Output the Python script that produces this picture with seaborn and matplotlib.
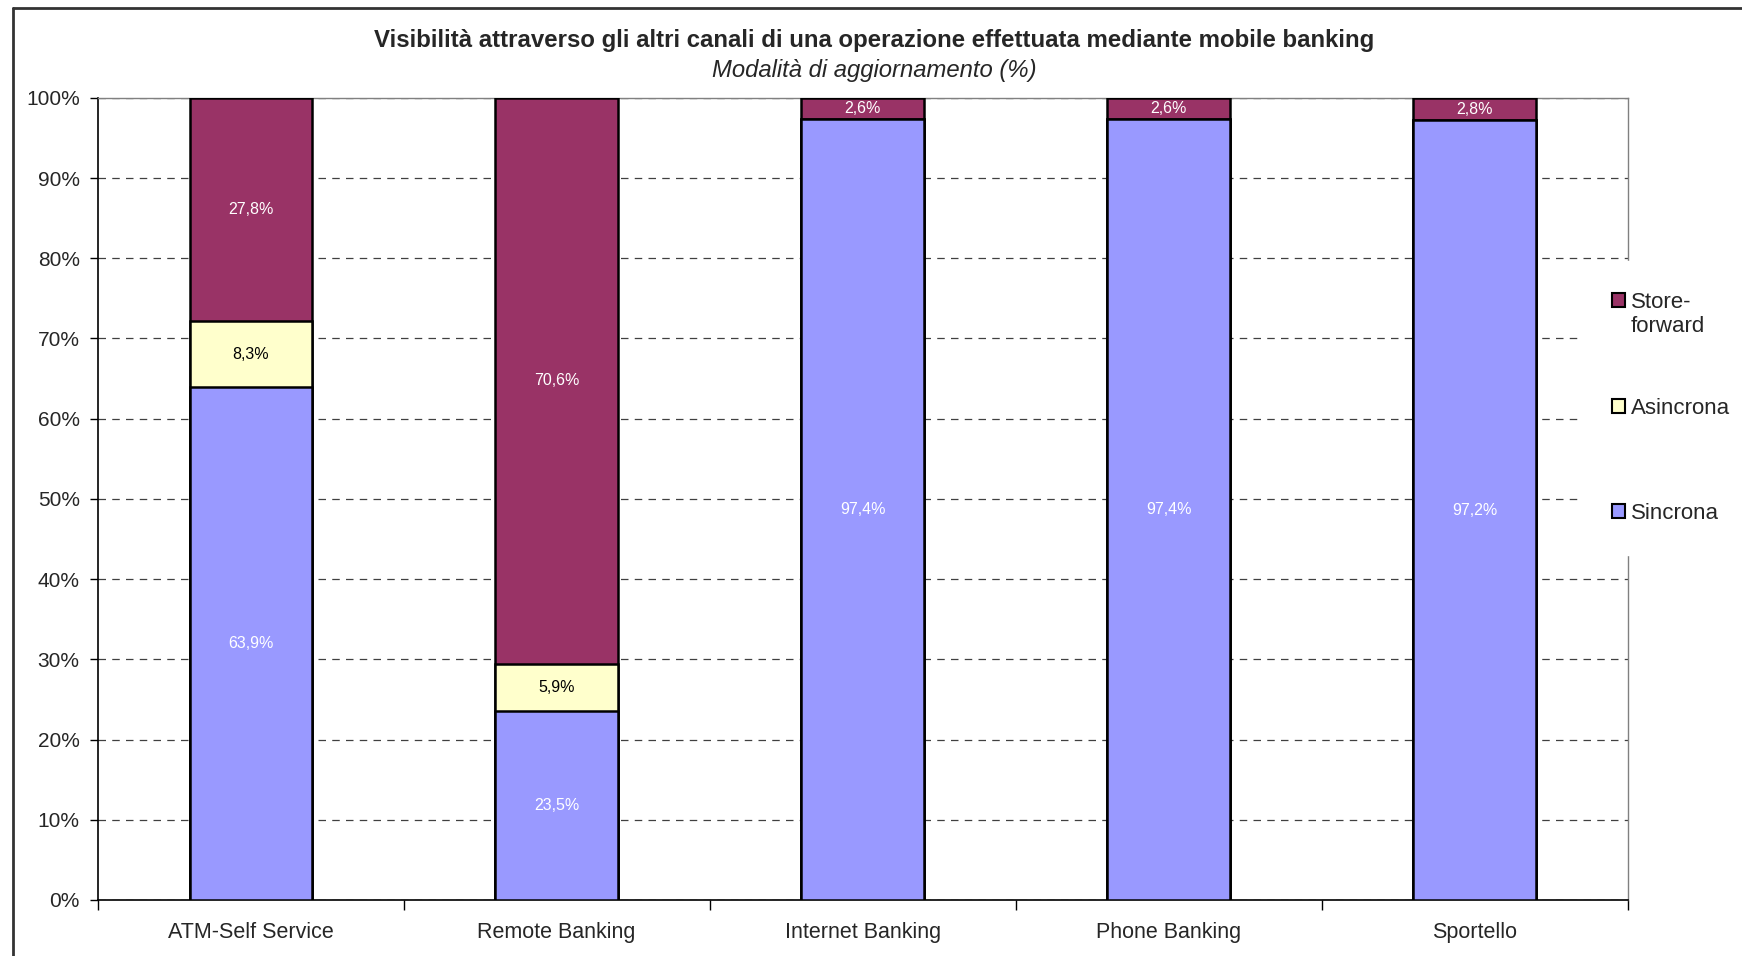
import numpy as np
import pandas as pd
import seaborn as sns
import matplotlib.pyplot as plt
from matplotlib.lines import Line2D
from matplotlib.patches import Patch

# data (percent)
canali = ["ATM-Self Service", "Remote Banking", "Internet Banking", "Phone Banking", "Sportello"]
sincrona = [63.9, 23.5, 97.4, 97.4, 97.2]
asincrona = [8.3, 5.9, 0.0, 0.0, 0.0]
store_forward = [27.8, 70.6, 2.6, 2.6, 2.8]

col_sinc = "#9999FF"
col_asinc = "#FFFFCC"
col_store = "#993366"

sns.set_style("white")
plt.rcParams["font.family"] = ["Liberation Sans", "DejaVu Sans"]

df = pd.DataFrame({"canale": canali, "sinc": sincrona, "asinc": asincrona, "store": store_forward})
df["cum_asinc"] = df["sinc"] + df["asinc"]
df["cum_store"] = df["cum_asinc"] + df["store"]

fig = plt.figure(figsize=(17.42, 9.56), dpi=100)
ax = fig.add_axes([0.0561, 0.0586, 0.8782, 0.8391])

# stacked bars: draw totals first, then lower layers on top
for ycol, c in [("cum_store", col_store), ("cum_asinc", col_asinc), ("sinc", col_sinc)]:
    sns.barplot(data=df, x="canale", y=ycol, order=canali, color=c, saturation=1,
                width=0.4, edgecolor="black", linewidth=1.8, ax=ax, zorder=3)

# value labels in the middle of each segment
for i in range(len(canali)):
    base = 0
    for vals, tc in [(sincrona, "white"), (asincrona, "black"), (store_forward, "white")]:
        v = vals[i]
        if v > 0:
            ax.text(i, base + v / 2, f"{v:.1f}%".replace(".", ","), ha="center", va="center",
                    fontsize=11.5, color=tc, zorder=5)
        base += v

ax.set_xlim(-0.5, len(canali) - 0.5)
ax.set_ylim(0, 100)
ax.set_yticks(np.arange(0, 101, 10))
ax.set_yticklabels([f"{t}%" for t in range(0, 101, 10)])
ax.yaxis.grid(True, linestyle=(0, (6, 5)), color="#404040", linewidth=0.9, zorder=0)
ax.set_axisbelow(True)
ax.set_xlabel("")
ax.set_ylabel("")

ax.tick_params(axis="y", which="major", length=6, width=1, color="black", left=True,
               labelsize=15, pad=7)
ax.tick_params(axis="x", which="major", length=0, labelsize=15.5, pad=16)
ax.set_xticks(np.arange(-0.5, len(canali)), minor=True)
ax.tick_params(axis="x", which="minor", length=7, width=1, color="black", bottom=True)

for s in ["left", "bottom"]:
    ax.spines[s].set_color("black")
    ax.spines[s].set_linewidth(1.2)
for s in ["top", "right"]:
    ax.spines[s].set_color("#808080")
    ax.spines[s].set_linewidth(1.0)

fig.text(0.5018, 1 - 41 / 956, "Visibilità attraverso gli altri canali di una operazione effettuata mediante mobile banking",
         ha="center", va="center", fontsize=17.3, fontweight="bold")
fig.text(0.5018, 1 - 71 / 956, "Modalità di aggiornamento (%)", ha="center", va="center",
         fontsize=17.2, style="italic")

handles = [Patch(facecolor=col_store, edgecolor="black", linewidth=1.5),
           Patch(facecolor=col_asinc, edgecolor="black", linewidth=1.5),
           Patch(facecolor=col_sinc, edgecolor="black", linewidth=1.5)]
leg = fig.legend(handles, ["Store-", "Asincrona", "Sincrona"], loc="center left",
                 bbox_to_anchor=(1581 / 1742, 1 - 408 / 956), frameon=True, framealpha=1,
                 facecolor="white", edgecolor="white", fontsize=16, handlelength=0.6,
                 handleheight=0.6, handletextpad=0.25, labelspacing=3.8,
                 borderpad=1.4, borderaxespad=0, fancybox=False)
leg.set_zorder(10)
# second line of the wrapped "Store-forward" label
fig.add_artist(plt.Annotation("forward", xy=(0, 0), xycoords=leg.get_texts()[0],
                              xytext=(0, -2), textcoords="offset points",
                              ha="left", va="top", fontsize=16, zorder=11))

# outer border of the chart area (left and top edges visible)
x0, y0 = 13 / 1742, 1 - 8 / 956
fig.add_artist(Line2D([x0, x0], [0, y0], color="#333333", linewidth=2))
fig.add_artist(Line2D([x0, 1], [y0, y0], color="#333333", linewidth=2))

fig.savefig("out.png", dpi=100)
